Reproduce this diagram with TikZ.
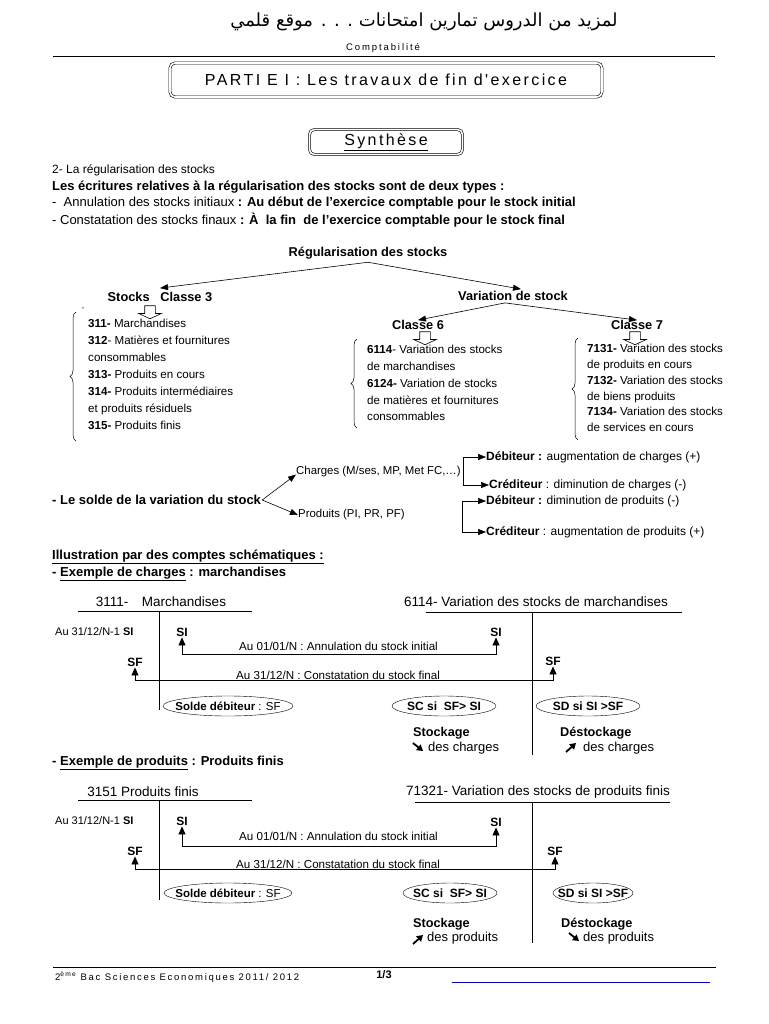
\documentclass[tikz,border=0pt]{standalone}
\usepackage{fontspec}
\setmainfont{Liberation Sans}
\newfontfamily\arabicfont[Script=Arabic]{DejaVu Sans}
\newfontfamily\spacedfont[LetterSpace=15]{Liberation Sans}
\TeXXeTstate=1
\usetikzlibrary{arrows.meta,shapes.arrows,decorations.pathreplacing,positioning}

\begin{document}
\begin{tikzpicture}[
  x=1pt, y=-1pt,
  every node/.style={inner sep=0pt},
  txt/.style={anchor=west, font=\fontsize{11.6}{13}\selectfont},
  btxt/.style={anchor=west, font=\fontsize{13}{15}\selectfont\bfseries},
  head/.style={font=\fontsize{12.8}{15}\selectfont\bfseries},
  sigle/.style={font=\fontsize{12}{14}\selectfont\bfseries},
  lst/.style={anchor=north west, align=left, font=\fontsize{11.6}{17}\selectfont},
  title/.style={font=\fontsize{13.5}{15}\selectfont},
  arr/.style={-{Triangle[length=8pt,width=6pt]}, line width=0.6pt},
  tarr/.style={{Triangle[length=8pt,width=7pt]}-{Triangle[length=8pt,width=7pt]}, line width=0.8pt},
  heavy/.style={-{Triangle[length=6pt,width=7pt]}, line width=1.8pt},
  hollow/.style={draw, single arrow, shape border rotate=270, inner sep=5pt, minimum height=13pt,
    single arrow head extend=6pt, single arrow tip angle=130, line width=0.6pt},
  brace/.style={decorate, decoration={brace, amplitude=6pt}, line width=0.5pt},
  frame/.style={draw, double, double distance=1.6pt, rounded corners=5pt, line width=0.6pt},
  account/.style={line width=0.8pt}
]
\useasboundingbox[fill=white] (0,0) rectangle (768,1024);

\node[font=\fontsize{18}{20}\selectfont] (site) at (424,22) {\arabicfont\beginR لمزيد من الدروس تمارين امتحانات . . . موقع قلمي\endR};
\node[font=\fontsize{9.5}{11}\selectfont] (matiere) at (383,48) {\spacedfont\addfontfeature{LetterSpace=20}Comptabilité};
\draw[line width=0.6pt] (53,56) -- (715,56);

\node[frame, minimum width=432pt, minimum height=34pt, font=\fontsize{16}{18}\selectfont] (partie) at (386,80) {\spacedfont PARTI E I : Les travaux de fin d'exercice};
\node[frame, minimum width=153pt, minimum height=25pt, font=\fontsize{16}{18}\selectfont] (synthese) at (386,142) {\spacedfont\underline{Synthèse}};

\node[txt, font=\fontsize{12}{14}\selectfont] (sec2) at (52,170) {2- La régularisation des stocks};
\node[btxt] (types) at (52,187) {Les écritures relatives à la régularisation des stocks sont de deux types :};
\node[txt, font=\fontsize{13}{15}\selectfont] (annul) at (52,203) {-\ \ Annulation des stocks initiaux \textbf{: Au début de l'exercice comptable pour le stock initial}};
\node[txt, font=\fontsize{13}{15}\selectfont] (const) at (52,220) {- Constatation des stocks finaux \textbf{: À\ \ la fin\ \ de l'exercice comptable pour le stock final}};

\node[head] (regul) at (368,253) {Régularisation des stocks};
\node[head] (stocks) at (160,297) {Stocks\ \ \ Classe 3};
\node[head] (variation) at (513,296) {Variation de stock};
\node[head] (classe6) at (418,325) {Classe 6};
\node[head] (classe7) at (637,325) {Classe 7};
\draw[arr] ([yshift=-3pt]regul.south) -- ([yshift=4pt]stocks.north);
\draw[arr] ([yshift=-3pt]regul.south) -- ([xshift=8pt,yshift=2pt]variation.north);
\draw[arr] ([xshift=-8pt,yshift=-2pt]variation.south) -- (classe6.north);
\draw[arr] ([xshift=-8pt,yshift=-2pt]variation.south) -- (classe7.north);

\node[hollow] (dn3) at (150,311) {};
\node[hollow] (dn6) at (425,337) {};
\node[hollow] (dn7) at (635,337) {};

\node[font=\fontsize{8}{9}\selectfont] (tick) at (83,309) {-};
\node[lst] (list3) at (88,319) {\textbf{311-} Marchandises\\
\textbf{312}- Matières et fournitures\\
consommables\\
\textbf{313-} Produits en cours\\
\textbf{314-} Produits intermédiaires\\
et produits résiduels\\
\textbf{315-} Produits finis};
\node[lst, font=\fontsize{11.6}{16.8}\selectfont] (list6) at (367,345) {\textbf{6114}- Variation des stocks\\
de marchandises\\
\textbf{6124-} Variation de stocks\\
de matières et fournitures\\
consommables};
\node[lst, font=\fontsize{11.6}{15.8}\selectfont] (list7) at (587,344) {\textbf{7131-} Variation des stocks\\
de produits en cours\\
\textbf{7132-} Variation des stocks\\
de biens produits\\
\textbf{7134-} Variation des stocks\\
de services en cours};
\draw[brace] (76,441) -- (76,312);
\draw[brace] (357,428) -- (357,339);
\draw[brace] (578,440) -- (578,338);

\node[btxt] (solde) at (52,500) {- Le solde de la variation du stock};
\node[txt, font=\fontsize{11.4}{13}\selectfont] (charges) at (296,472) {Charges (M/ses, MP, Met FC,…)};
\node[txt, font=\fontsize{11.4}{13}\selectfont] (produits) at (298,515) {Produits (PI, PR, PF)};
\draw[arr] ([xshift=1pt]solde.east) -- ([yshift=3pt]charges.south west);
\draw[arr] ([xshift=1pt]solde.east) -- (produits.west);
\node[txt, font=\fontsize{12}{14}\selectfont] (deb1) at (486,457) {\textbf{Débiteur :} augmentation de charges (+)};
\node[txt, font=\fontsize{12}{14}\selectfont] (cred1) at (489,485) {\textbf{Créditeur} : diminution de charges (-)};
\node[txt, font=\fontsize{12}{14}\selectfont] (deb2) at (486,501) {\textbf{Débiteur :} diminution de produits (-)};
\node[txt, font=\fontsize{12}{14}\selectfont] (cred2) at (486,532) {\textbf{Créditeur} : augmentation de produits (+)};
\coordinate (fork1) at (463,471);
\coordinate (fork2) at (462,518);
\draw[arr] (fork1) |- (deb1.west);
\draw[arr] (fork1) |- (cred1.west);
\draw[arr] (fork2) |- (deb2.west);
\draw[arr] (fork2) |- (cred2.west);

\node[btxt] (illus) at (52,557) {\underline{Illustration par des comptes schématiques :}};
\node[btxt] (ex1) at (52,574) {- \underline{Exemple de charges} : marchandises};

\node[title] (acc3111) at (161,602) {3111-\quad Marchandises};
\node[title] (acc6114) at (536,602) {6114- Variation des stocks de marchandises};
\draw[account] (78,611) -- (252,611);
\draw[account] (159,611) -- (159,710);
\draw[account] (426,612) -- (682,612);
\draw[account] (532,612) -- (532,755);
\node[txt, font=\fontsize{11}{13}\selectfont] (si0a) at (55,632) {Au 31/12/N-1 \textbf{SI}};
\node[sigle] (si1a) at (182,632) {SI};
\node[sigle] (si1b) at (496,632) {SI};
\node[sigle] (sf1a) at (135,662) {SF};
\node[sigle] (sf1b) at (553,661) {SF};
\node[txt] (ann1) at (239,646) {Au 01/01/N : Annulation du stock initial};
\node[txt] (con1) at (236,675) {Au 31/12/N : Constatation du stock final};
\draw[tarr, shorten <=1pt, shorten >=1pt] (si1a.south) -- ++(0,18) -| (si1b.south);
\draw[tarr, shorten <=1pt, shorten >=1pt] (sf1a.south) -- ++(0,14) -| (sf1b.south);
\node[txt, anchor=center, font=\fontsize{11.5}{13}\selectfont] (sdeb1) at (228,706) {\textbf{Solde débiteur} : SF};
\node[sigle] (sc1) at (444,706) {SC si\ \ SF> SI};
\node[sigle] (sd1) at (588,706) {SD si SI >SF};
\draw (sdeb1.center) ellipse [x radius=65pt, y radius=10pt];
\draw (sc1.center) ellipse [x radius=52pt, y radius=10pt];
\draw (sd1.center) ellipse [x radius=52pt, y radius=10pt];
\node[btxt, font=\fontsize{12.7}{15}\selectfont\bfseries] (stk1) at (413,733) {Stockage};
\node[txt, font=\fontsize{13}{15}\selectfont] (stk1b) at (428,748) {des charges};
\draw[heavy] ([xshift=-15pt,yshift=5pt]stk1b.west) -- ++(10,8);
\node[btxt, font=\fontsize{12.7}{15}\selectfont\bfseries] (dstk1) at (560,733) {Déstockage};
\node[txt, font=\fontsize{13}{15}\selectfont] (dstk1b) at (583,748) {des charges};
\draw[heavy] ([xshift=-17pt,yshift=-4pt]dstk1b.west) -- ++(10,-9);

\node[btxt] (ex2) at (52,763) {- \underline{Exemple de produits} : Produits finis};

\node[title] (acc3151) at (143,792) {3151 Produits finis};
\node[title] (acc71321) at (538,792) {71321- Variation des stocks de produits finis};
\draw[account] (78,800) -- (252,800);
\draw[account] (159,800) -- (159,900);
\draw[account] (415,802) -- (670,802);
\draw[account] (532,802) -- (532,943);
\node[txt, font=\fontsize{11}{13}\selectfont] (si0b) at (55,821) {Au 31/12/N-1 \textbf{SI}};
\node[sigle] (si2a) at (182,821) {SI};
\node[sigle] (si2b) at (496,822) {SI};
\node[sigle] (sf2a) at (135,851) {SF};
\node[sigle] (sf2b) at (555,851) {SF};
\node[txt] (ann2) at (239,836) {Au 01/01/N : Annulation du stock initial};
\node[txt] (con2) at (236,864) {Au 31/12/N : Constatation du stock final};
\draw[tarr, shorten <=1pt, shorten >=1pt] (si2a.south) -- ++(0,21) -| (si2b.south);
\draw[tarr, shorten <=1pt, shorten >=1pt] (sf2a.south) -- ++(0,14) -| (sf2b.south);
\node[txt, anchor=center, font=\fontsize{11.5}{13}\selectfont] (sdeb2) at (228,893) {\textbf{Solde débiteur} : SF};
\node[sigle] (sc2) at (450,893) {SC si\ \ SF> SI};
\node[sigle] (sd2) at (593,893) {SD si SI >SF};
\draw (sdeb2.center) ellipse [x radius=64pt, y radius=10pt];
\draw (sc2.center) ellipse [x radius=47pt, y radius=10pt];
\draw (sd2.center) ellipse [x radius=40pt, y radius=10pt];
\node[btxt, font=\fontsize{12.7}{15}\selectfont\bfseries] (stk2) at (413,924) {Stockage};
\node[txt, font=\fontsize{13}{15}\selectfont] (stk2b) at (427,938) {des produits};
\draw[heavy] ([xshift=-14pt,yshift=-6pt]stk2b.west) -- ++(10,-9);
\node[btxt, font=\fontsize{12.7}{15}\selectfont\bfseries] (dstk2) at (561,924) {Déstockage};
\node[txt, font=\fontsize{13}{15}\selectfont] (dstk2b) at (583,938) {des produits};
\draw[heavy] ([xshift=-14pt,yshift=5pt]dstk2b.west) -- ++(10,8);

\draw[line width=0.7pt] (53,967) -- (716,967);
\node[anchor=west, font=\fontsize{9.5}{11}\selectfont] (classe) at (55,977) {\spacedfont\addfontfeature{LetterSpace=18}2\textsuperscript{ème} Bac Sciences Economiques 2011/ 2012};
\node[font=\fontsize{11}{13}\selectfont\bfseries] (page) at (384,975) {1/3};
\draw[blue!70!black, line width=0.7pt] (452,982) -- (710,982);
\end{tikzpicture}
\end{document}
